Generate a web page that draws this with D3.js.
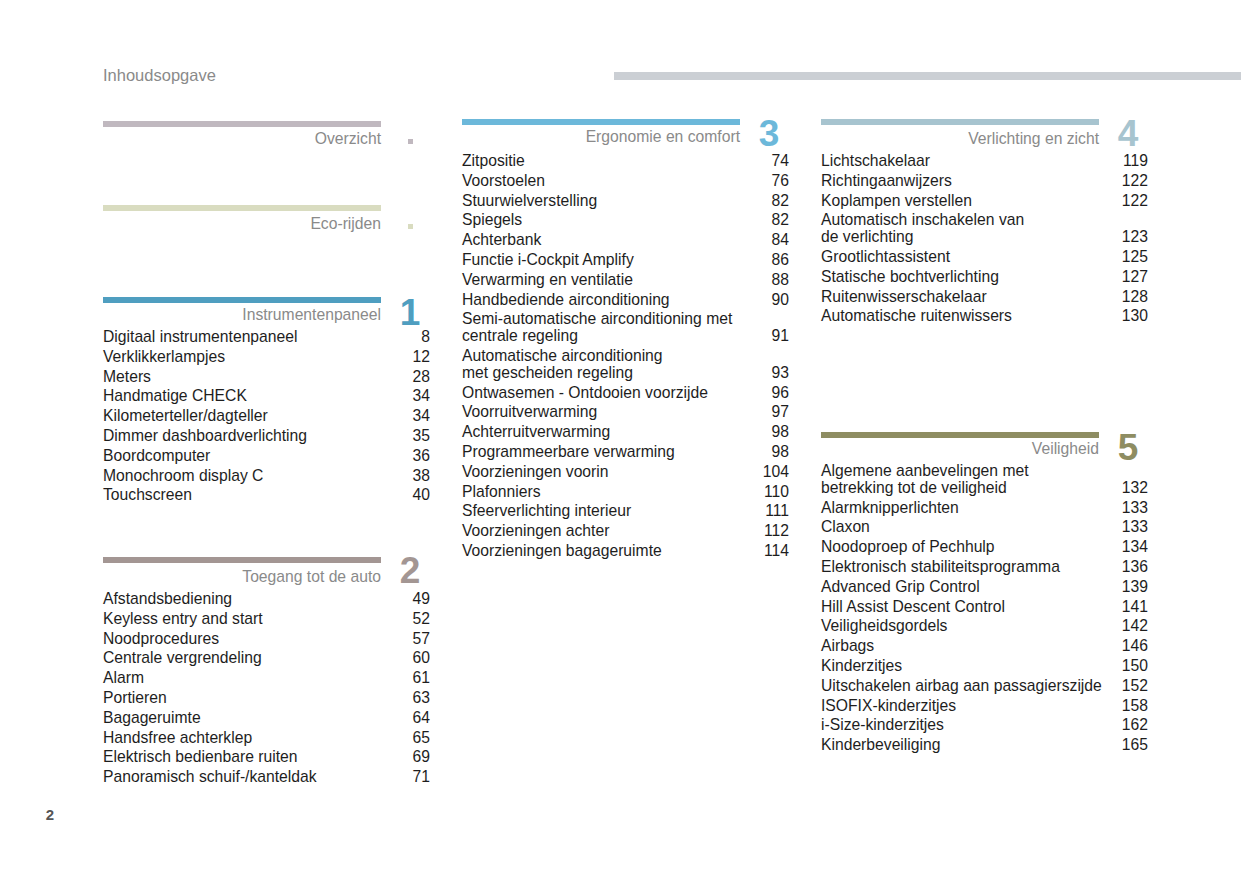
<!DOCTYPE html>
<html>
<head>
<meta charset="utf-8">
<script src="https://cdn.jsdelivr.net/npm/d3@7"></script>
<style>
  body { margin: 0; background: #fff; }
  text { font-family: "Liberation Sans", Arial, sans-serif; }
</style>
</head>
<body>
<div id="page"></div>
<script>
// Page data
const pageTitle = "Inhoudsopgave";
const pageNumber = "2";

const sectionTitles = ["Overzicht", "Eco-rijden", "Instrumentenpaneel", "Toegang tot de auto",
  "Ergonomie en comfort", "Verlichting en zicht", "Veiligheid"];
const sectionMarks = ["", "", "1", "2", "3", "4", "5"];

const instrumentenpaneel = [
  ["Digitaal instrumentenpaneel", 8], ["Verklikkerlampjes", 12], ["Meters", 28],
  ["Handmatige CHECK", 34], ["Kilometerteller/dagteller", 34], ["Dimmer dashboardverlichting", 35],
  ["Boordcomputer", 36], ["Monochroom display C", 38], ["Touchscreen", 40]
];
const toegang = [
  ["Afstandsbediening", 49], ["Keyless entry and start", 52], ["Noodprocedures", 57],
  ["Centrale vergrendeling", 60], ["Alarm", 61], ["Portieren", 63], ["Bagageruimte", 64],
  ["Handsfree achterklep", 65], ["Elektrisch bedienbare ruiten", 69], ["Panoramisch schuif-/kanteldak", 71]
];
const ergonomie = [
  ["Zitpositie", 74], ["Voorstoelen", 76], ["Stuurwielverstelling", 82], ["Spiegels", 82],
  ["Achterbank", 84], ["Functie i-Cockpit Amplify", 86], ["Verwarming en ventilatie", 88],
  ["Handbediende airconditioning", 90], ["Semi-automatische airconditioning met\ncentrale regeling", 91],
  ["Automatische airconditioning\nmet gescheiden regeling", 93], ["Ontwasemen - Ontdooien voorzijde", 96],
  ["Voorruitverwarming", 97], ["Achterruitverwarming", 98], ["Programmeerbare verwarming", 98],
  ["Voorzieningen voorin", 104], ["Plafonniers", 110], ["Sfeerverlichting interieur", 111],
  ["Voorzieningen achter", 112], ["Voorzieningen bagageruimte", 114]
];
const verlichting = [
  ["Lichtschakelaar", 119], ["Richtingaanwijzers", 122], ["Koplampen verstellen", 122],
  ["Automatisch inschakelen van\nde verlichting", 123], ["Grootlichtassistent", 125],
  ["Statische bochtverlichting", 127], ["Ruitenwisserschakelaar", 128], ["Automatische ruitenwissers", 130]
];
const veiligheid = [
  ["Algemene aanbevelingen met\nbetrekking tot de veiligheid", 132], ["Alarmknipperlichten", 133],
  ["Claxon", 133], ["Noodoproep of Pechhulp", 134], ["Elektronisch stabiliteitsprogramma", 136],
  ["Advanced Grip Control", 139], ["Hill Assist Descent Control", 141], ["Veiligheidsgordels", 142],
  ["Airbags", 146], ["Kinderzitjes", 150], ["Uitschakelen airbag aan passagierszijde", 152],
  ["ISOFIX-kinderzitjes", 158], ["i-Size-kinderzitjes", 162], ["Kinderbeveiliging", 165]
];
const sectionEntries = [[], [], instrumentenpaneel, toegang, ergonomie, verlichting, veiligheid];

// Layout (positions and styles)
const width = 1241, height = 875;
const columnX = d3.scaleOrdinal().domain([0, 1, 2]).range([103, 462, 821]);
const colWidth = 327, barWidth = 278;
const fontSize = "15.7px";
const layout = [
  { col: 0, barY: 121, labelY: 144, firstY: 342, color: "#c0b8bf", square: true },
  { col: 0, barY: 205, labelY: 229, firstY: 0, color: "#d9dcc0", square: true },
  { col: 0, barY: 297, labelY: 320, firstY: 342, color: "#4f9ec0", markY: 325 },
  { col: 0, barY: 557, labelY: 582, firstY: 604, color: "#a39693", markY: 583 },
  { col: 1, barY: 119, labelY: 142, firstY: 166, color: "#6cb8da", markY: 146 },
  { col: 2, barY: 119, labelY: 144, firstY: 166, color: "#a7c4cf", markY: 146 },
  { col: 2, barY: 432, labelY: 454, firstY: 476, color: "#8e8d62", markY: 460 }
];
const entryStep = 19.8, lineStep = 16.8;

const svg = d3.select("#page").append("svg")
  .attr("width", width)
  .attr("height", height);

// Header
svg.append("text")
  .attr("x", 103).attr("y", 81)
  .style("font-size", "16.5px").attr("fill", "#8a8a8a")
  .text(pageTitle);

svg.append("rect")
  .attr("x", 614).attr("y", 72).attr("width", width - 614).attr("height", 8)
  .attr("fill", "#cbcfd4");

// Sections
sectionTitles.forEach((title, i) => {
  const L = layout[i];
  const x0 = columnX(L.col);
  const g = svg.append("g");

  g.append("rect")
    .attr("x", x0).attr("y", L.barY).attr("width", barWidth).attr("height", 6)
    .attr("fill", L.color);

  g.append("text")
    .attr("x", x0 + barWidth).attr("y", L.labelY)
    .attr("text-anchor", "end")
    .style("font-size", fontSize).attr("fill", "#8a8a8a")
    .text(title);

  if (L.square) {
    g.append("rect")
      .attr("x", x0 + 305).attr("y", L.labelY - 5).attr("width", 5).attr("height", 5)
      .attr("fill", L.color);
  } else {
    g.append("text")
      .attr("x", x0 + colWidth - 20).attr("y", L.markY)
      .attr("text-anchor", "middle")
      .style("font-size", "37px").style("font-weight", "bold")
      .attr("fill", L.color)
      .text(sectionMarks[i]);
  }

  let y = L.firstY;
  sectionEntries[i].forEach(([label, page]) => {
    const lines = label.split("\n");
    lines.forEach((line, k) => {
      g.append("text")
        .attr("x", x0).attr("y", y + k * lineStep)
        .style("font-size", fontSize).attr("fill", "#1e1e1e")
        .text(line);
    });
    const lastY = y + (lines.length - 1) * lineStep;
    g.append("text")
      .attr("x", x0 + colWidth).attr("y", lastY)
      .attr("text-anchor", "end")
      .style("font-size", fontSize).attr("fill", "#1e1e1e")
      .text(page);
    y = lastY + entryStep;
  });
});

// Page number
svg.append("text")
  .attr("x", 50).attr("y", 820)
  .attr("text-anchor", "middle")
  .style("font-size", "15px").style("font-weight", "bold")
  .attr("fill", "#555")
  .text(pageNumber);
</script>
</body>
</html>
